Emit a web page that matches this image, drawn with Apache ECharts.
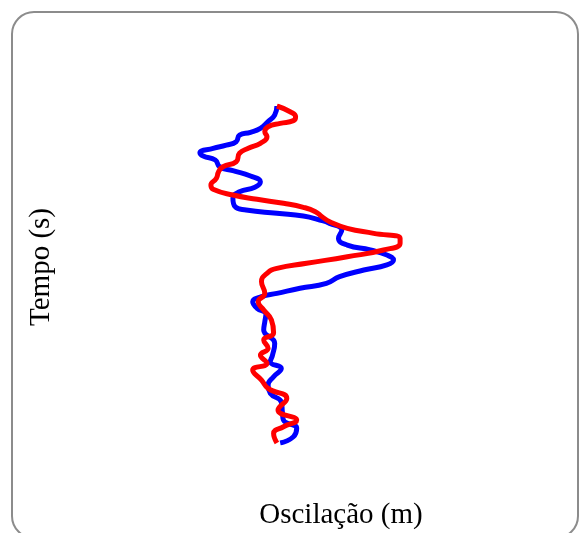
<!DOCTYPE html>
<html>
<head>
    <meta charset="utf-8">
    <title>Oscilação</title>
    <script src="https://cdn.jsdelivr.net/npm/echarts@6/dist/echarts.min.js"></script>
    <style>
        html, body, #main {
            width: 100%;
            height: 100%;
            margin: 0;
            background: #fff;
        }
    </style>
</head>
<body>
    <div id="main"></div>
    <script type="text/javascript">
        // tempo (s) e oscilação (m)
        var blueTime = [0, 0.91, 1.58, 2.25, 2.65, 2.93, 3.6, 3.94, 4.27, 4.71,
            5.05, 5.45, 6.13, 6.53, 7.06, 7.64, 8.2, 8.65, 9.31, 10.16,
            10.49, 10.83, 11.1, 11.5, 11.84, 12.51, 13.35, 14.03, 14.53, 15.04,
            15.54, 16.04, 16.55, 17.22, 17.89, 18.39, 18.9, 19.23, 19.75, 20.41,
            20.99, 21.77, 22.6, 23.95, 25.13, 25.8, 26.47, 27.32, 28.15, 28.99,
            29.87, 30.88, 31.69, 32.52, 33.37, 34];
        var blueOsc = [-0.21, -0.23, -0.29, -0.36, -0.45, -0.55, -0.58, -0.67, -0.79, -0.91,
            -0.88, -0.77, -0.73, -0.61, -0.45, -0.36, -0.41, -0.55, -0.61, -0.59,
            -0.49, -0.21, 0.03, 0.18, 0.27, 0.38, 0.35, 0.43, 0.64, 0.79,
            0.85, 0.79, 0.58, 0.36, 0.24, 0, -0.21, -0.35, -0.43, -0.39,
            -0.31, -0.32, -0.33, -0.23, -0.25, -0.27, -0.17, -0.24, -0.29, -0.27,
            -0.17, -0.16, -0.15, -0.03, -0.06, -0.18];

        var redTime = [0, 0.58, 1.08, 1.48, 1.75, 2.09, 2.59, 3.1, 3.76, 4.27,
            4.77, 5.62, 6.13, 6.63, 7.3, 7.97, 8.4, 8.98, 9.41, 9.82,
            10.22, 10.66, 11.17, 11.67, 12.34, 12.85, 13.35, 13.85, 14.53, 15.21,
            15.87, 16.38, 16.88, 17.72, 18.9, 19.75, 20.59, 21.59, 22.9, 23.61,
            24.45, 25.13, 25.96, 26.64, 27.65, 28.49, 29.5, 30.68, 31.69, 32.36,
            33.03, 34];
        var redOsc = [-0.21, -0.09, -0.04, -0.06, -0.18, -0.29, -0.32, -0.3, -0.36, -0.47,
            -0.55, -0.58, -0.7, -0.74, -0.76, -0.81, -0.79, -0.61, -0.39, -0.15,
            0.03, 0.14, 0.2, 0.27, 0.43, 0.67, 0.91, 0.91, 0.76, 0.43,
            0.06, -0.21, -0.3, -0.35, -0.32, -0.38, -0.33, -0.26, -0.24, -0.33,
            -0.29, -0.36, -0.3, -0.43, -0.35, -0.29, -0.12, -0.2, -0.03, -0.15,
            -0.24, -0.21];

        function pairs(osc, time) {
            return osc.map(function (v, i) { return [v, time[i]]; });
        }

        var myChart = echarts.init(document.getElementById('main'));
        var option = {
            animation: false,
            backgroundColor: '#fff',
            grid: { left: 190, right: 170, top: 106, bottom: 90 },
            xAxis: {
                type: 'value', min: -1, max: 1,
                axisLine: { show: false }, axisTick: { show: false },
                axisLabel: { show: false }, splitLine: { show: false }
            },
            yAxis: {
                type: 'value', min: 0, max: 34, inverse: true,
                axisLine: { show: false }, axisTick: { show: false },
                axisLabel: { show: false }, splitLine: { show: false }
            },
            graphic: [
                {
                    type: 'rect',
                    shape: { x: 12, y: 12, width: 566, height: 526, r: 22 },
                    style: { fill: 'none', stroke: '#8c8c8c', lineWidth: 2 }
                },
                {
                    type: 'text', x: 341, y: 515,
                    style: {
                        text: 'Oscilação (m)', fill: '#000',
                        font: '29px "Liberation Serif", "Times New Roman", serif',
                        textAlign: 'center', textVerticalAlign: 'middle'
                    }
                },
                {
                    type: 'text', x: 41, y: 267, rotation: Math.PI / 2,
                    style: {
                        text: 'Tempo (s)', fill: '#000',
                        font: '29px "Liberation Serif", "Times New Roman", serif',
                        textAlign: 'center', textVerticalAlign: 'middle'
                    }
                }
            ],
            series: [
                {
                    name: 'azul', type: 'line', smooth: true, symbol: 'none',
                    data: pairs(blueOsc, blueTime),
                    lineStyle: { color: '#0000ff', width: 5 }
                },
                {
                    name: 'vermelho', type: 'line', smooth: true, symbol: 'none',
                    data: pairs(redOsc, redTime),
                    lineStyle: { color: '#ff0000', width: 5 }
                }
            ]
        };
        myChart.setOption(option, true);
    </script>
</body>
</html>
